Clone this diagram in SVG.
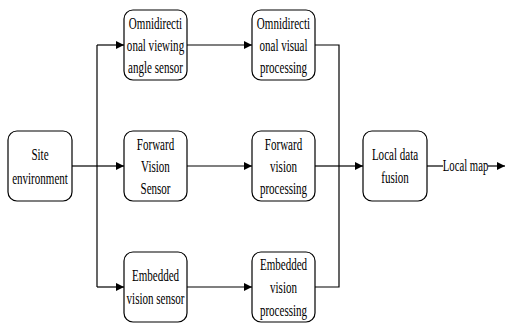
<svg xmlns="http://www.w3.org/2000/svg" width="506" height="325" viewBox="0 0 506 325">
<style>
.box{fill:#fff;stroke:#000;stroke-width:1.2}
.lbl{font-family:'Liberation Serif','Times New Roman',serif;font-size:16px;fill:#000;text-anchor:middle}
.ln{fill:none;stroke:#000;stroke-width:1.2}
</style>
<defs>
<marker id="ah" markerUnits="userSpaceOnUse" markerWidth="9" markerHeight="9" refX="8" refY="4" orient="auto">
<path d="M0,0 L8,4 L0,8 Z" fill="#000"/>
</marker>
</defs>
<g id="connectors">
<path class="ln" d="M72,166 H97"/>
<path class="ln" d="M97,45 V287"/>
<path class="ln" d="M97,45 H124" marker-end="url(#ah)"/>
<path class="ln" d="M97,166 H124" marker-end="url(#ah)"/>
<path class="ln" d="M97,287 H124" marker-end="url(#ah)"/>
<path class="ln" d="M187,45 H252" marker-end="url(#ah)"/>
<path class="ln" d="M187,166 H252" marker-end="url(#ah)"/>
<path class="ln" d="M187,287 H252" marker-end="url(#ah)"/>
<path class="ln" d="M315,45 H339 V287 H315"/>
<path class="ln" d="M315,166 H339"/>
<path class="ln" d="M339,166 H363" marker-end="url(#ah)"/>
<path class="ln" d="M427,166 H443"/>
<path class="ln" d="M488,166 H505" marker-end="url(#ah)"/>
<text class="lbl" transform="translate(465.5,0) scale(0.67,1)" x="0" y="171">Local map</text>
</g>
<g id="site">
<rect class="box" x="8" y="131" width="64" height="70" rx="9"/>
<text class="lbl" transform="translate(40,0) scale(0.69,1)"><tspan x="0" y="160">Site</tspan><tspan x="0" y="184">environment</tspan></text>
</g>
<g id="omni-sensor">
<rect class="box" x="124" y="10" width="63" height="70" rx="9"/>
<text class="lbl" transform="translate(155.5,0) scale(0.69,1)"><tspan x="0" y="29">Omnidirecti</tspan><tspan x="0" y="51">onal viewing</tspan><tspan x="0" y="73">angle sensor</tspan></text>
</g>
<g id="forward-sensor">
<rect class="box" x="124" y="131" width="63" height="70" rx="9"/>
<text class="lbl" transform="translate(155.5,0) scale(0.69,1)"><tspan x="0" y="150">Forward</tspan><tspan x="0" y="172">Vision</tspan><tspan x="0" y="194">Sensor</tspan></text>
</g>
<g id="embedded-sensor">
<rect class="box" x="124" y="252" width="63" height="70" rx="9"/>
<text class="lbl" transform="translate(155.5,0) scale(0.69,1)"><tspan x="0" y="281">Embedded</tspan><tspan x="0" y="304">vision sensor</tspan></text>
</g>
<g id="omni-processing">
<rect class="box" x="252" y="10" width="63" height="70" rx="9"/>
<text class="lbl" transform="translate(283.5,0) scale(0.69,1)"><tspan x="0" y="29">Omnidirecti</tspan><tspan x="0" y="51">onal visual</tspan><tspan x="0" y="73">processing</tspan></text>
</g>
<g id="forward-processing">
<rect class="box" x="252" y="131" width="63" height="70" rx="9"/>
<text class="lbl" transform="translate(283.5,0) scale(0.69,1)"><tspan x="0" y="150">Forward</tspan><tspan x="0" y="172">vision</tspan><tspan x="0" y="194">processing</tspan></text>
</g>
<g id="embedded-processing">
<rect class="box" x="252" y="252" width="63" height="70" rx="9"/>
<text class="lbl" transform="translate(283.5,0) scale(0.69,1)"><tspan x="0" y="270">Embedded</tspan><tspan x="0" y="293">vision</tspan><tspan x="0" y="316">processing</tspan></text>
</g>
<g id="fusion">
<rect class="box" x="363" y="131" width="64" height="70" rx="9"/>
<text class="lbl" transform="translate(395,0) scale(0.69,1)"><tspan x="0" y="160">Local data</tspan><tspan x="0" y="183">fusion</tspan></text>
</g>
</svg>
